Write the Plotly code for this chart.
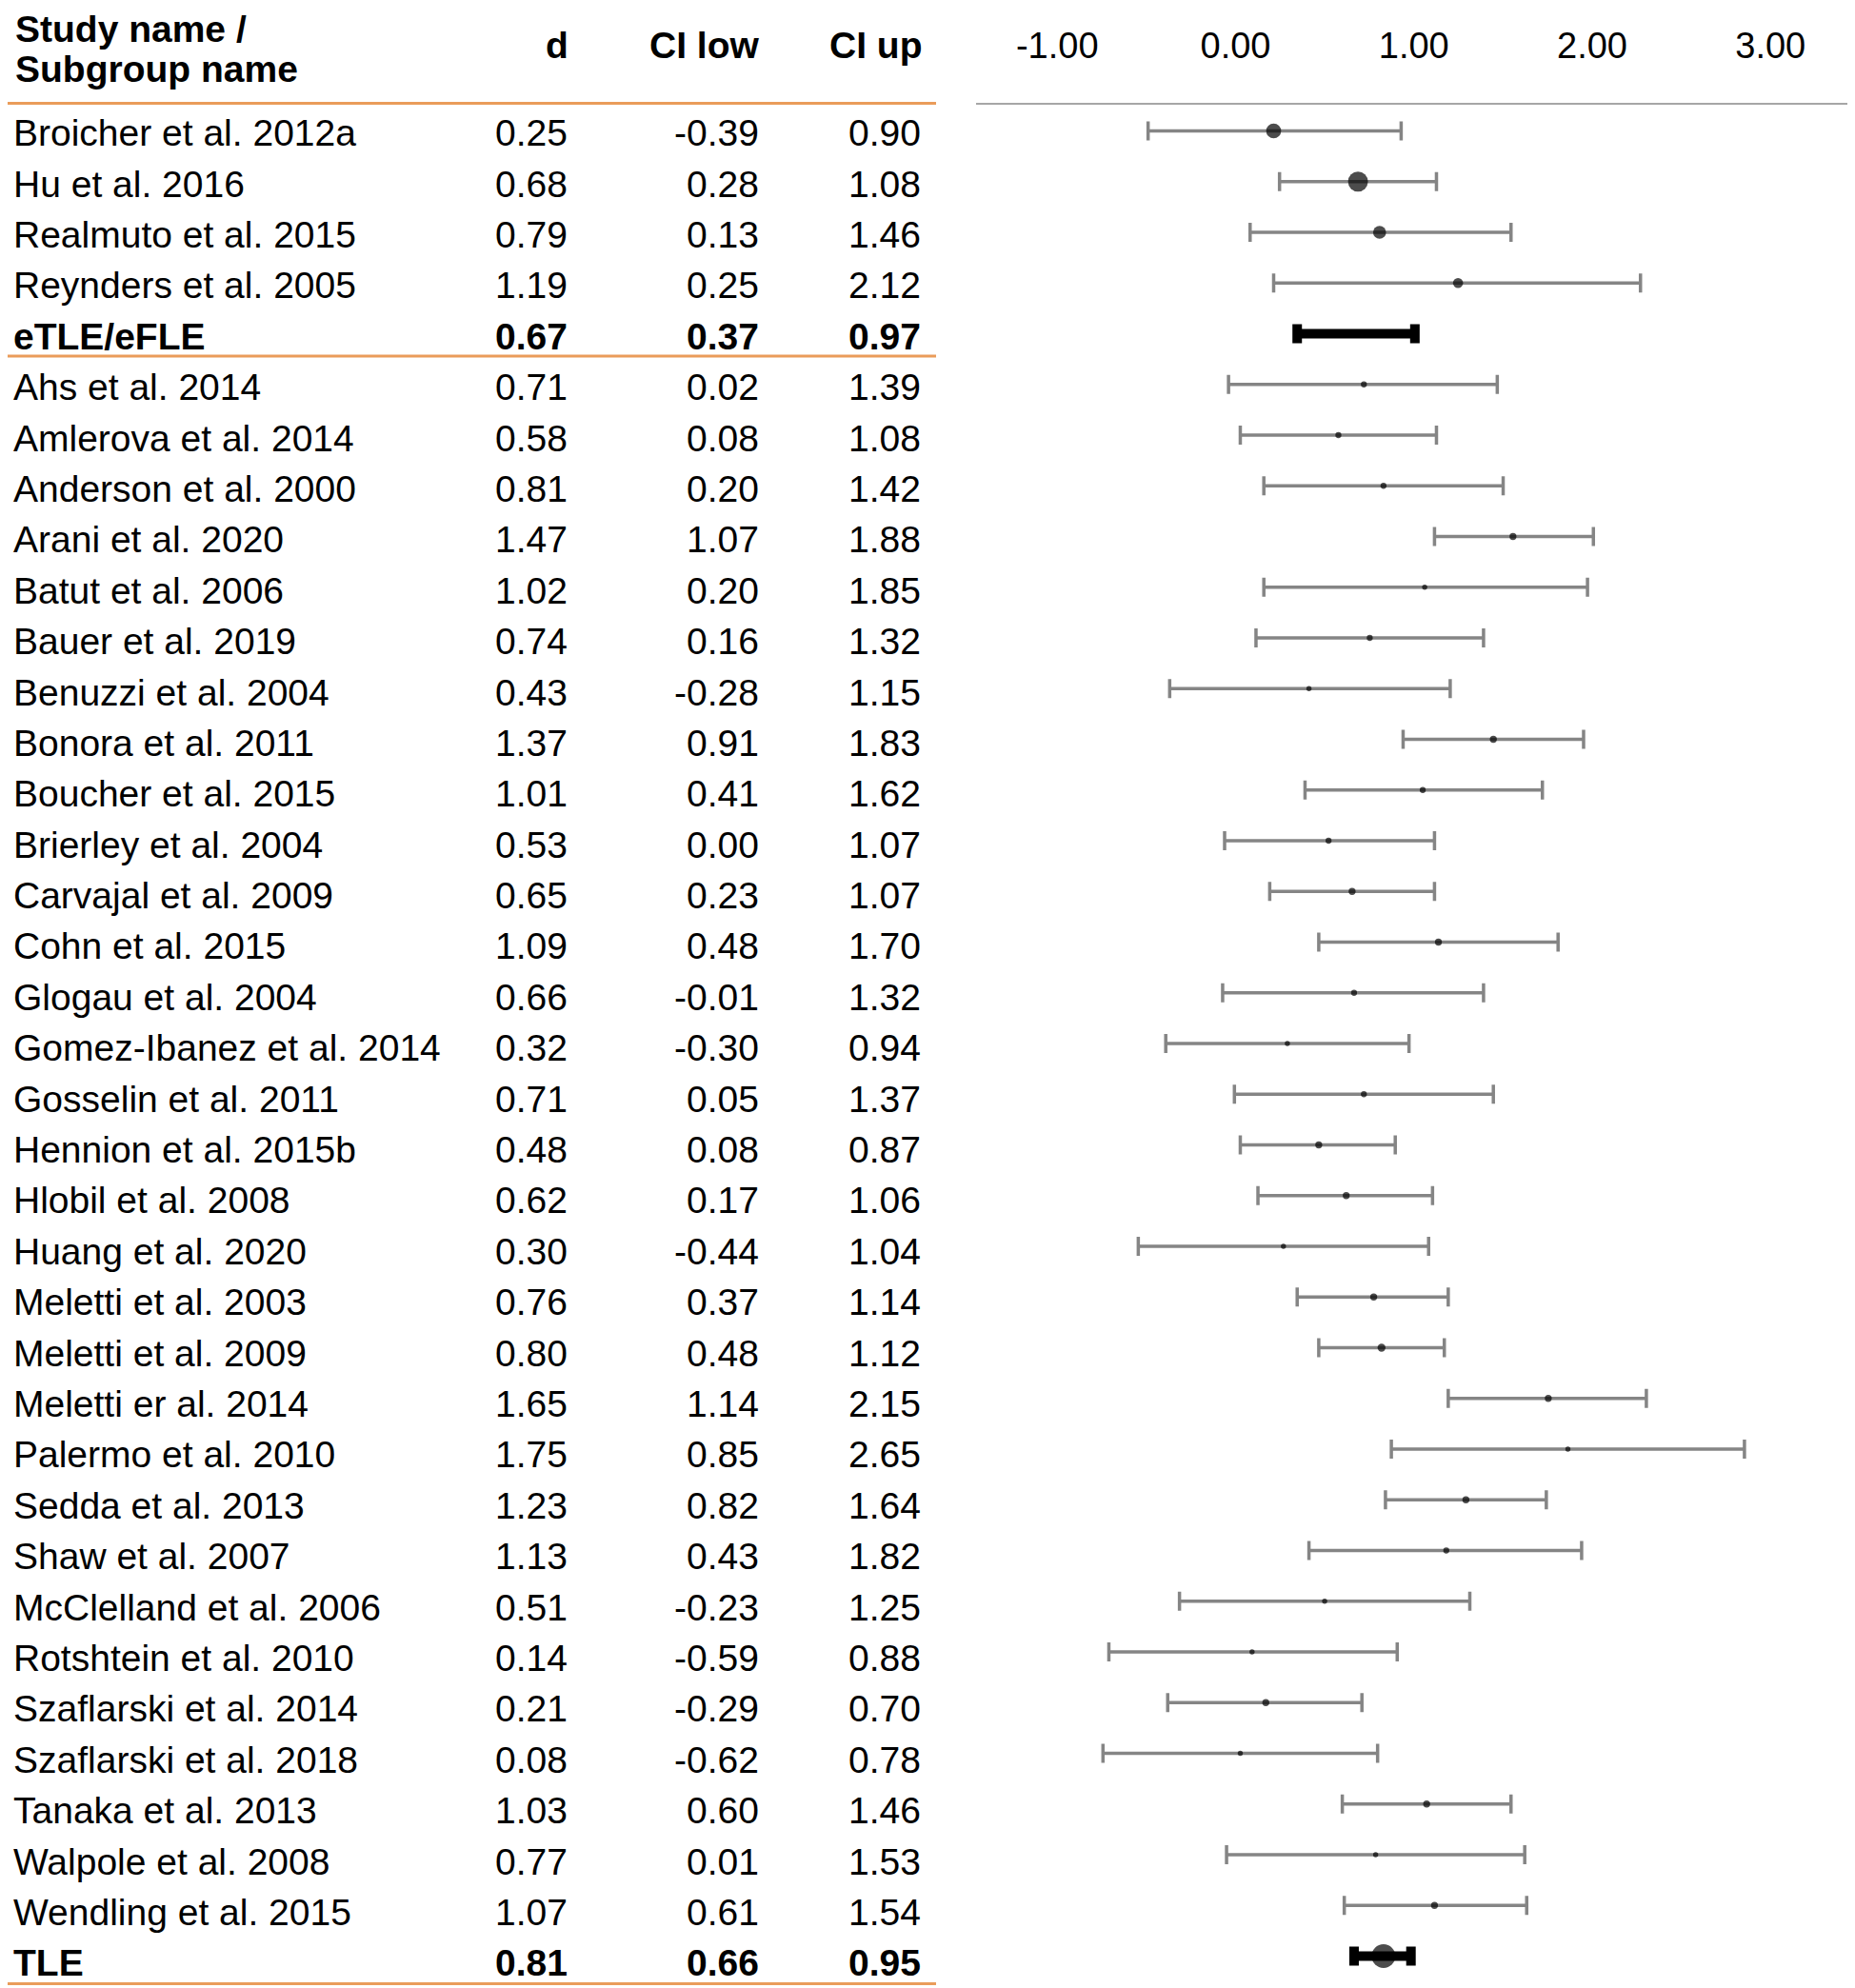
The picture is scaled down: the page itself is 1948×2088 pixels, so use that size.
import plotly.graph_objects as go

# -------------------------------------------------
# Data
# -------------------------------------------------
study = [
    "Broicher et al. 2012a", "Hu et al. 2016", "Realmuto et al. 2015",
    "Reynders et al. 2005", "eTLE/eFLE",
    "Ahs et al. 2014", "Amlerova et al. 2014", "Anderson et al. 2000",
    "Arani et al. 2020", "Batut et al. 2006", "Bauer et al. 2019",
    "Benuzzi et al. 2004", "Bonora et al. 2011", "Boucher et al. 2015",
    "Brierley et al. 2004", "Carvajal et al. 2009", "Cohn et al. 2015",
    "Glogau et al. 2004", "Gomez-Ibanez et al. 2014", "Gosselin et al. 2011",
    "Hennion et al. 2015b", "Hlobil et al. 2008", "Huang et al. 2020",
    "Meletti et al. 2003", "Meletti et al. 2009", "Meletti er al. 2014",
    "Palermo et al. 2010", "Sedda et al. 2013", "Shaw et al. 2007",
    "McClelland et al. 2006", "Rotshtein et al. 2010",
    "Szaflarski et al. 2014", "Szaflarski et al. 2018", "Tanaka et al. 2013",
    "Walpole et al. 2008", "Wendling et al. 2015", "TLE",
]
d_val = [
    0.25, 0.68, 0.79, 1.19, 0.67,
    0.71, 0.58, 0.81, 1.47, 1.02, 0.74, 0.43, 1.37, 1.01, 0.53, 0.65, 1.09,
    0.66, 0.32, 0.71, 0.48, 0.62, 0.30, 0.76, 0.80, 1.65, 1.75, 1.23, 1.13,
    0.51, 0.14, 0.21, 0.08, 1.03, 0.77, 1.07, 0.81,
]
ci_low = [
    -0.39, 0.28, 0.13, 0.25, 0.37,
    0.02, 0.08, 0.20, 1.07, 0.20, 0.16, -0.28, 0.91, 0.41, 0.00, 0.23, 0.48,
    -0.01, -0.30, 0.05, 0.08, 0.17, -0.44, 0.37, 0.48, 1.14, 0.85, 0.82, 0.43,
    -0.23, -0.59, -0.29, -0.62, 0.60, 0.01, 0.61, 0.66,
]
ci_up = [
    0.90, 1.08, 1.46, 2.12, 0.97,
    1.39, 1.08, 1.42, 1.88, 1.85, 1.32, 1.15, 1.83, 1.62, 1.07, 1.07, 1.70,
    1.32, 0.94, 1.37, 0.87, 1.06, 1.04, 1.14, 1.12, 2.15, 2.65, 1.64, 1.82,
    1.25, 0.88, 0.70, 0.78, 1.46, 1.53, 1.54, 0.95,
]
# relative weight of each study (drives dot area); None for subgroup summaries
weight = [
    4.6, 8.2, 3.5, 2.1, None,
    0.75, 0.75, 0.75, 1.0, 0.55, 0.75, 0.55, 1.0, 0.75, 0.75, 1.0, 1.0,
    0.75, 0.55, 0.75, 1.0, 1.0, 0.55, 1.0, 1.3, 1.0, 0.55, 1.0, 0.75,
    0.55, 0.55, 1.0, 0.55, 1.0, 0.55, 1.0, None,
]
summary_names = ["eTLE/eFLE", "TLE"]
axis_ticks = [-1, 0, 1, 2, 3]

# -------------------------------------------------
# Geometry, in page pixels (the page body has an 8px margin)
# -------------------------------------------------
OFF = 8
W, H = 1948 - OFF, 2088 - OFF
TOP_PX, BOTTOM_PX = 110, 2082          # header rule / bottom rule
ROW0_PX, ROW_STEP = 137.5, 53.25       # forest rows: centre of first row, pitch
TXT0_PX, TXT_STEP = 143.5, 53.39       # table rows (text sits a bit lower)
MID_RULE_PX = 374
TABLE_RIGHT = 983
PLOT_LEFT = 1025
ZERO_PX, UNIT_PX = 1286, 206           # data scale of the forest panel
LAB_ZERO_PX, LAB_UNIT_PX = 1297.5, 187.25  # tick labels of the original sit on their own scale

FONT = "Liberation Sans, Arial, sans-serif"
ORANGE = "#EA9C5A"
GREY = "#858585"


def px_x(p):
    return (p - OFF) / W


def px_y(p):
    return 1 - (p - OFF) / H


rows = list(range(len(study)))
is_sum = [s in summary_names for s in study]


def bold(txt, flag):
    return f"<b>{txt}</b>" if flag else txt


fig = go.Figure()

# -------------------------------------------------
# Table columns
# -------------------------------------------------
fig.add_trace(
    go.Scatter(
        x=[14] * len(study),
        y=rows,
        mode="text",
        text=[bold(s, b) for s, b in zip(study, is_sum)],
        textposition="middle right",
        textfont=dict(family=FONT, size=39, color="black"),
        hoverinfo="skip",
        xaxis="x",
        yaxis="y2",
    )
)

for col_x, vals in [(596, d_val), (797, ci_low), (967, ci_up)]:
    fig.add_trace(
        go.Scatter(
            x=[col_x] * len(vals),
            y=rows,
            mode="text",
            text=[bold(f"{v:.2f}", b) for v, b in zip(vals, is_sum)],
            textposition="middle left",
            textfont=dict(family=FONT, size=39, color="black"),
            hoverinfo="skip",
            xaxis="x",
            yaxis="y2",
        )
    )

# -------------------------------------------------
# Study estimates: CI bars first, dots on top
# -------------------------------------------------
st_idx = [i for i in rows if not is_sum[i]]
fig.add_trace(
    go.Scatter(
        x=[d_val[i] for i in st_idx],
        y=st_idx,
        mode="markers",
        marker=dict(size=1, opacity=0),
        error_x=dict(
            type="data",
            symmetric=False,
            array=[ci_up[i] - d_val[i] for i in st_idx],
            arrayminus=[d_val[i] - ci_low[i] for i in st_idx],
            color=GREY,
            thickness=3.5,
            width=10,
        ),
        xaxis="x2",
        yaxis="y",
    )
)
fig.add_trace(
    go.Scatter(
        x=[d_val[i] for i in st_idx],
        y=st_idx,
        mode="markers",
        marker=dict(
            color="black",
            size=[7.3 * weight[i] ** 0.5 for i in st_idx],
            line=dict(width=0),
        ),
        xaxis="x2",
        yaxis="y",
    )
)

# -------------------------------------------------
# Subgroup summaries
# -------------------------------------------------
sm_idx = [i for i in rows if is_sum[i]]
fig.add_trace(
    go.Scatter(
        x=[d_val[i] for i in sm_idx],
        y=sm_idx,
        mode="markers",
        marker=dict(size=1, opacity=0),
        error_x=dict(
            type="data",
            symmetric=False,
            array=[ci_up[i] - d_val[i] for i in sm_idx],
            arrayminus=[d_val[i] - ci_low[i] for i in sm_idx],
            color="black",
            thickness=10,
            width=10,
        ),
        xaxis="x2",
        yaxis="y",
    )
)
fig.add_trace(
    go.Scatter(
        x=[d_val[i] for i in sm_idx],
        y=sm_idx,
        mode="markers",
        marker=dict(color="black", size=[8, 25], line=dict(width=0)),
        xaxis="x2",
        yaxis="y",
    )
)

# -------------------------------------------------
# Headers
# -------------------------------------------------
hdr = dict(family=FONT, size=39, color="black")
fig.add_annotation(x=14, y=px_y(31), xref="x", yref="paper", text="<b>Study name /</b>",
                   showarrow=False, xanchor="left", yanchor="middle", font=hdr)
fig.add_annotation(x=14, y=px_y(72), xref="x", yref="paper", text="<b>Subgroup name</b>",
                   showarrow=False, xanchor="left", yanchor="middle", font=hdr)
for hx, ht in [(599, "d"), (799, "CI low"), (970, "CI up")]:
    fig.add_annotation(x=hx, y=px_y(47), xref="x", yref="paper", text=f"<b>{ht}</b>",
                       showarrow=False, xanchor="right", yanchor="middle", font=hdr)

# rule between the two subgroups
fig.add_shape(type="line", xref="x", yref="paper", x0=OFF, x1=TABLE_RIGHT,
              y0=px_y(MID_RULE_PX), y1=px_y(MID_RULE_PX),
              line=dict(color=ORANGE, width=3))

# -------------------------------------------------
# Axes
# -------------------------------------------------
fig.update_layout(
    width=W,
    height=H,
    margin=dict(l=0, r=0, t=0, b=0),
    paper_bgcolor="white",
    plot_bgcolor="white",
    showlegend=False,
    xaxis=dict(
        domain=[0, px_x(TABLE_RIGHT)],
        range=[OFF, TABLE_RIGHT],
        anchor="y2",
        side="top",
        showline=True,
        linecolor=ORANGE,
        linewidth=3,
        mirror=True,
        showticklabels=False,
        ticks="",
        showgrid=False,
        zeroline=False,
        fixedrange=True,
    ),
    xaxis2=dict(
        domain=[px_x(PLOT_LEFT), 1],
        range=[(PLOT_LEFT - ZERO_PX) / UNIT_PX, (OFF + W - ZERO_PX) / UNIT_PX],
        anchor="y",
        visible=False,
        showgrid=False,
        zeroline=False,
    ),
    xaxis3=dict(
        domain=[px_x(PLOT_LEFT), 1],
        range=[(PLOT_LEFT - LAB_ZERO_PX) / LAB_UNIT_PX, (OFF + W - LAB_ZERO_PX) / LAB_UNIT_PX],
        overlaying="x2",
        anchor="y",
        side="top",
        tickmode="array",
        tickvals=axis_ticks,
        ticktext=[f"{t:.2f}" for t in axis_ticks],
        tickfont=dict(family=FONT, size=38, color="black"),
        ticks="outside",
        ticklen=32,
        tickcolor="rgba(0,0,0,0)",
        showline=True,
        linecolor="#A6A6A6",
        linewidth=2,
        showgrid=False,
        zeroline=False,
    ),
    yaxis=dict(
        domain=[px_y(BOTTOM_PX), px_y(TOP_PX)],
        range=[(BOTTOM_PX - ROW0_PX) / ROW_STEP, (TOP_PX - ROW0_PX) / ROW_STEP],
        anchor="x2",
        visible=False,
        showgrid=False,
        zeroline=False,
    ),
    yaxis2=dict(
        domain=[px_y(BOTTOM_PX), px_y(TOP_PX)],
        range=[(BOTTOM_PX - TXT0_PX) / TXT_STEP, (TOP_PX - TXT0_PX) / TXT_STEP],
        anchor="x",
        visible=False,
        showgrid=False,
        zeroline=False,
    ),
)

# empty trace so the tick-label axis is drawn
fig.add_trace(go.Scatter(x=[], y=[], xaxis="x3", yaxis="y", showlegend=False))

fig.write_html("out.html")
